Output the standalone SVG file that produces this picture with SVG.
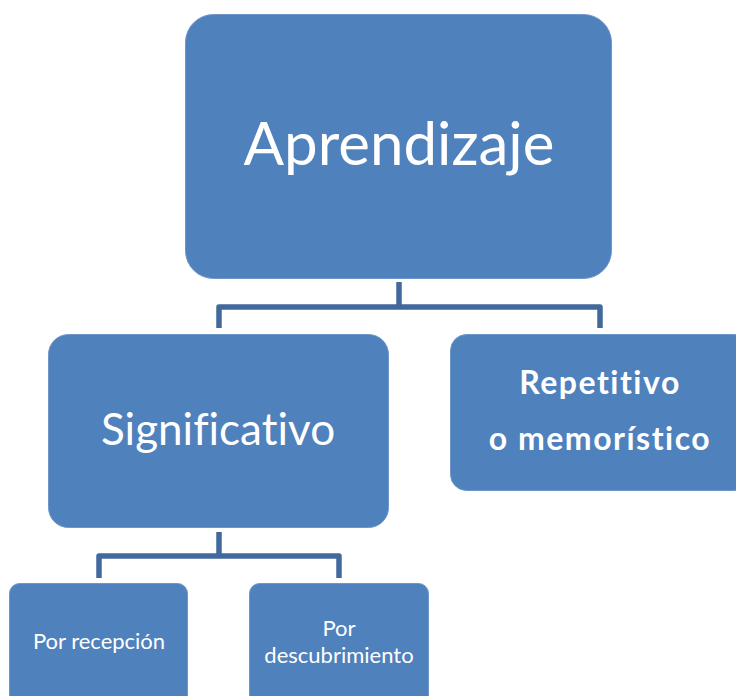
<svg xmlns="http://www.w3.org/2000/svg" width="736" height="696" viewBox="0 0 736 696">
<style>
.box{fill:#4F81BD;stroke:#6E97C9;stroke-width:1}
.t{fill:#FFFFFF;font-family:Lato,"Open Sans","Liberation Sans",sans-serif;text-anchor:middle;font-variant-ligatures:none}
.b{font-weight:bold;letter-spacing:1.5px}
.c{fill:none;stroke:#41699B;stroke-width:5.5;stroke-linejoin:round}
</style>
<rect width="736" height="696" fill="#FFFFFF"/>
<g id="connectors">
<path class="c" d="M399,282 V307 M219,328 V307 H600 V328"/>
<path class="c" d="M219,532 V556 M99,578 V556 H339 V578"/>
</g>
<g id="aprendizaje">
<rect class="box" x="185.5" y="14.5" width="426" height="264" rx="28"/>
<text class="t" x="399" y="165" font-size="60">Aprendizaje</text>
</g>
<g id="significativo">
<rect class="box" x="48.5" y="334.5" width="340" height="193" rx="20"/>
<text class="t" x="218" y="445" font-size="44">Significativo</text>
</g>
<g id="repetitivo">
<rect class="box" x="450.5" y="334.5" width="300" height="156" rx="16"/>
<text class="t b" x="600" y="394" font-size="32">Repetitivo</text>
<text class="t b" x="600" y="450" font-size="32">o memorístico</text>
</g>
<g id="recepcion">
<rect class="box" x="9.5" y="583.5" width="178" height="130" rx="10"/>
<text class="t" x="99" y="649" font-size="22">Por recepción</text>
</g>
<g id="descubrimiento">
<rect class="box" x="249.5" y="583.5" width="179" height="130" rx="10"/>
<text class="t" x="339" y="636" font-size="22">Por</text>
<text class="t" x="339" y="663" font-size="22">descubrimiento</text>
</g>
</svg>
